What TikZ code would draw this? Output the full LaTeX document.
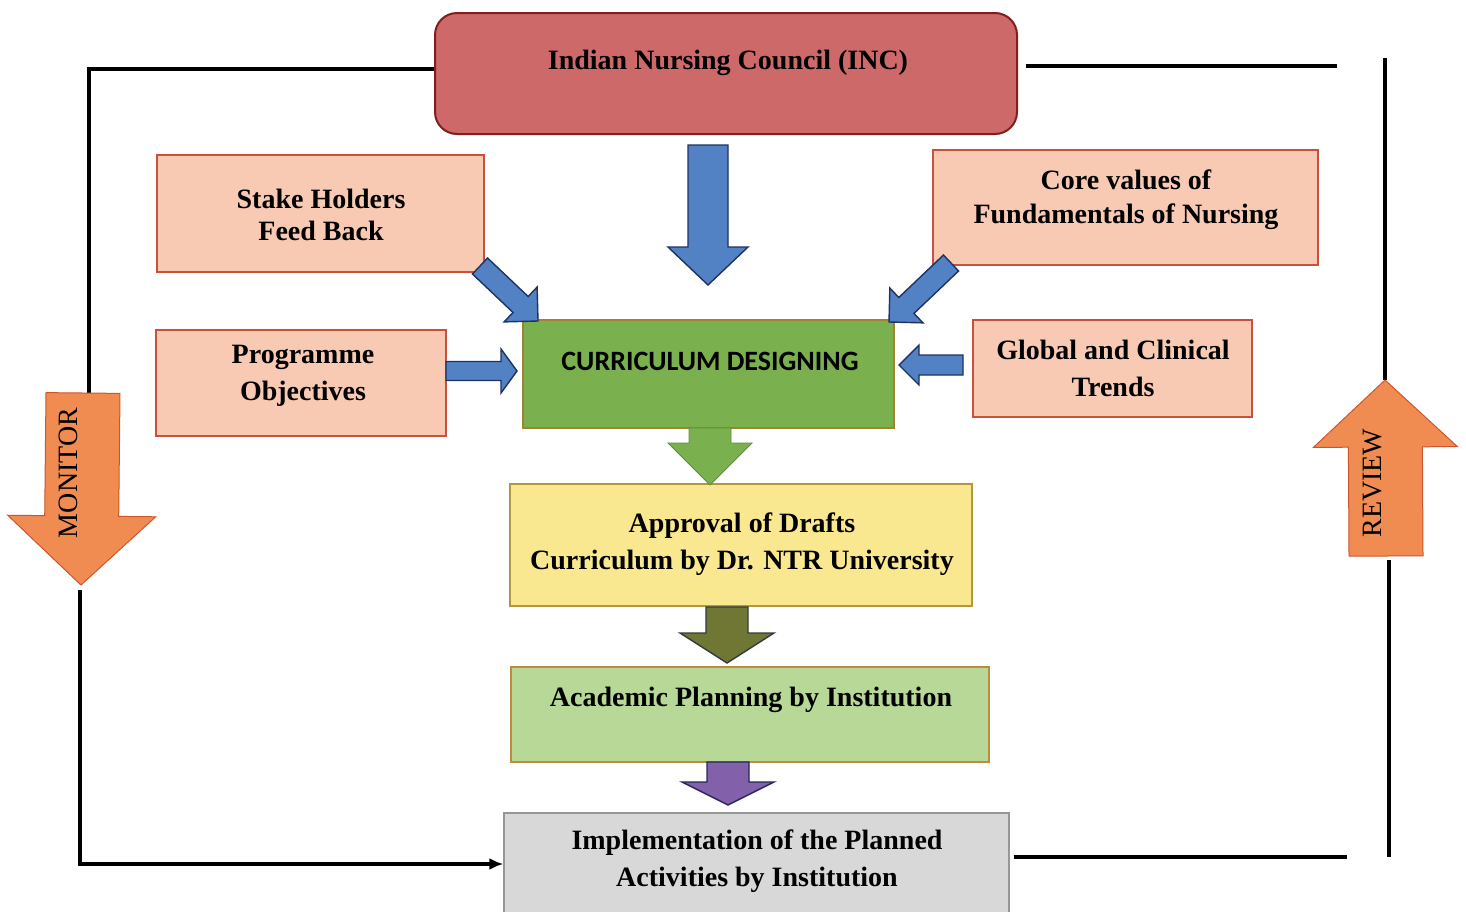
\documentclass[tikz,border=0pt]{standalone}
\usepackage{fontspec}
\setmainfont{Liberation Serif}
\newfontfamily\cdfont{Carlito}
\usetikzlibrary{calc,arrows.meta}
\definecolor{incF}{RGB}{205,105,105}
\definecolor{incD}{RGB}{130,30,30}
\definecolor{peachF}{RGB}{248,202,180}
\definecolor{peachD}{RGB}{200,80,60}
\definecolor{cdF}{RGB}{122,176,78}
\definecolor{cdD}{RGB}{160,130,50}
\definecolor{blueF}{RGB}{82,130,195}
\definecolor{blueD}{RGB}{30,50,100}
\definecolor{apprF}{RGB}{250,232,145}
\definecolor{apprD}{RGB}{180,150,60}
\definecolor{acadF}{RGB}{184,216,152}
\definecolor{acadD}{RGB}{190,140,60}
\definecolor{implF}{RGB}{216,216,216}
\definecolor{implD}{RGB}{150,150,150}
\definecolor{oliveF}{RGB}{112,118,52}
\definecolor{oliveD}{RGB}{50,60,60}
\definecolor{purpF}{RGB}{130,96,170}
\definecolor{purpD}{RGB}{40,40,90}
\definecolor{orF}{RGB}{240,140,82}
\definecolor{orD}{RGB}{205,85,45}
% #1 style, #2 tail, #3 tip, #4 half shaft, #5 half head, #6 head length
\newcommand{\blockarrow}[6]{%
  \path ($(#3)!#6!(#2)$) coordinate (babase);
  \filldraw[#1] ($(#2)!#4!90:(#3)$) -- ($(babase)!#4!-90:(#2)$) -- ($(babase)!#5!-90:(#2)$) -- (#3) -- ($(babase)!#5!90:(#2)$) -- ($(babase)!#4!90:(#2)$) -- ($(#2)!#4!-90:(#3)$) -- cycle;
}
\tikzset{
  box/.style={line width=1.4pt, inner sep=0pt},
  peach/.style={box, fill=peachF, draw=peachD},
  txt/.style={font=\fontsize{28}{37}\selectfont\bfseries, align=center, inner sep=0pt},
  sidetxt/.style={font=\fontsize{28}{30}\selectfont, rotate=90, inner sep=0pt},
  conn/.style={line width=3.6pt, black},
  bluearr/.style={fill=blueF, draw=blueD, line width=1.4pt},
}
\begin{document}
\begin{tikzpicture}[x=1pt,y=-1pt]
\useasboundingbox (0,0) rectangle (1466,911);
% boxes
\node[box, fill=incF, draw=incD, rounded corners=22pt, line width=2pt, minimum width=582pt, minimum height=121pt] (inc) at (726,73.5) {};
\node[peach, minimum width=327pt, minimum height=117pt] (stake) at (320.5,213.5) {};
\node[peach, minimum width=385pt, minimum height=115pt] (core) at (1125.5,207.5) {};
\node[peach, minimum width=290pt, minimum height=106pt] (prog) at (301,383) {};
\node[peach, minimum width=279pt, minimum height=97pt] (glob) at (1112.5,368.5) {};
\node[box, fill=cdF, draw=cdD, minimum width=371pt, minimum height=108pt] (cd) at (708.5,374) {};
\node[box, fill=apprF, draw=apprD, minimum width=462pt, minimum height=122pt] (appr) at (741,545) {};
\node[box, fill=acadF, draw=acadD, minimum width=478pt, minimum height=95pt] (acad) at (750,714.5) {};
\node[box, fill=implF, draw=implD, minimum width=505pt, minimum height=102pt] (impl) at (756.5,864) {};
% texts
\node[txt] (incT) at (728,63) {Indian Nursing Council (INC)};
\node[txt] (stakeT) at (321,215) {Stake Holders\\[-5pt]Feed Back};
\node[txt] (coreT) at (1126,200) {Core values of\\[-3pt]Fundamentals of Nursing};
\node[txt] (progT) at (303,376) {Programme\\Objectives};
\node[txt] (globT) at (1113,368) {Global and Clinical\\Trends};
\node[txt, font=\fontsize{28}{30}\selectfont\cdfont\bfseries] (cdT) at (710,361) {CURRICULUM DESIGNING};
\node[txt] (apprT) at (742,544) {Approval of Drafts\\Curriculum by Dr. NTR University};
\node[txt] (acadT) at (751,700) {Academic Planning by Institution};
\node[txt] (implT) at (757,861) {Implementation of the Planned\\Activities by Institution};
% feedback loop lines
\coordinate (lt) at (89,69);
\coordinate (monTop) at (89,393);
\coordinate (monTip) at (81,585);
\coordinate (monTail) at (83,393);
\coordinate (monBot) at (80,590);
\draw[conn] (inc.west |- lt) -- (lt) -- (monTop);
\draw[conn, -{Latex[length=14pt,width=12pt]}] (monBot) |- (impl.west);
\coordinate (rt) at (1337,66);
\draw[conn] ([xshift=8pt]inc.east |- rt) -- (rt);
\coordinate (rvTop) at (1385,58);
\coordinate (revTip) at (1385,380);
\coordinate (revTail) at (1386,556);
\coordinate (rvBot) at (1389,560);
\coordinate (rvEnd) at (1389,857);
\draw[conn] (rvTop) -- (revTip);
\draw[conn] (rvBot) -- (rvEnd);
\coordinate (rb) at (1347,857);
\draw[conn] ([xshift=4pt]impl.east |- rb) -- (rb);
% side arrows
\blockarrow{fill=orF, draw=orD, line width=1pt}{monTail}{monTip}{37pt}{74pt}{69pt}
\node[sidetxt] (monT) at (68,473) {MONITOR};
\blockarrow{fill=orF, draw=orD, line width=1pt}{revTail}{revTip}{37pt}{72pt}{67pt}
\node[sidetxt] (revT) at (1373,483) {REVIEW};
% blue arrows
\coordinate (a1s) at (708,145); \coordinate (a1e) at (708,285);
\blockarrow{bluearr}{a1s}{a1e}{20pt}{40pt}{38pt}
\coordinate (a2s) at (480,266); \coordinate (a2e) at (538,321);
\blockarrow{bluearr}{a2s}{a2e}{11pt}{24pt}{24pt}
\coordinate (a3s) at (951,263); \coordinate (a3e) at (889,322);
\blockarrow{bluearr}{a3s}{a3e}{11pt}{24pt}{24pt}
\coordinate (a4s) at (446,371); \coordinate (a4e) at (517,371);
\blockarrow{bluearr}{a4s}{a4e}{9.5pt}{22pt}{16pt}
\coordinate (a5s) at (963,365); \coordinate (a5e) at (899,365);
\blockarrow{bluearr}{a5s}{a5e}{10pt}{20pt}{20pt}
% down arrows
\coordinate (g1s) at (710,428); \coordinate (g1e) at (710,485);
\blockarrow{fill=cdF, draw=cdF!80!black, line width=0.8pt}{g1s}{g1e}{21pt}{42pt}{42pt}
\coordinate (o1s) at (727,607); \coordinate (o1e) at (727,663);
\blockarrow{fill=oliveF, draw=oliveD, line width=1.4pt}{o1s}{o1e}{21pt}{47pt}{30pt}
\coordinate (p1s) at (728,762); \coordinate (p1e) at (728,805);
\blockarrow{fill=purpF, draw=purpD, line width=1.4pt}{p1s}{p1e}{21pt}{46pt}{23pt}
\end{tikzpicture}
\end{document}
